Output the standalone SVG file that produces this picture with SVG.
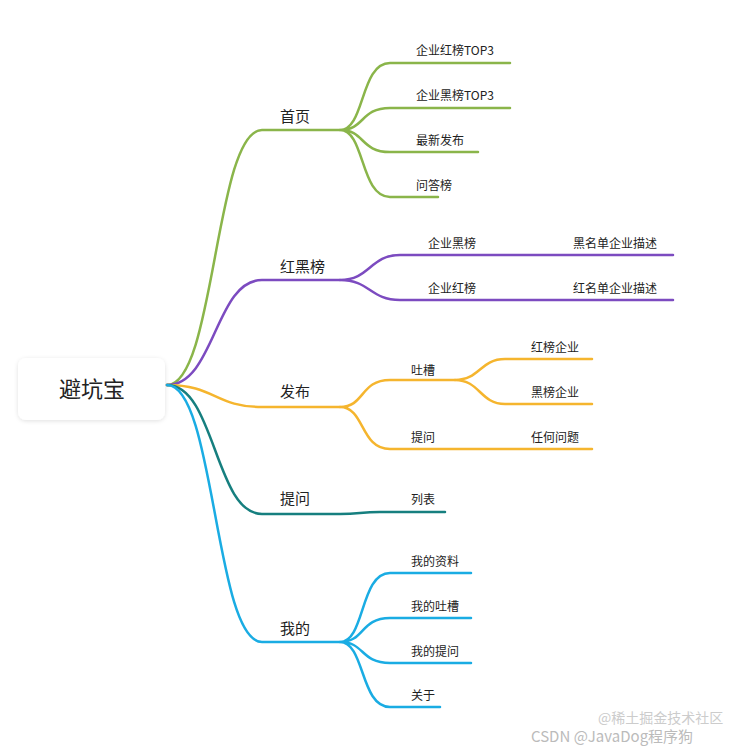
<svg xmlns="http://www.w3.org/2000/svg" width="750" height="754" viewBox="0 0 750 754">
<defs><filter id="sh" x="-20%" y="-20%" width="140%" height="150%"><feDropShadow dx="0" dy="1" stdDeviation="2" flood-color="#000" flood-opacity="0.12"/></filter></defs>
<style>
text{font-family:"Noto Sans CJK SC","Noto Sans",sans-serif;fill:#222}
.l1{font-size:15px}.l2{font-size:12px}
path{fill:none;stroke-width:2.5;stroke-linecap:round}
.g{stroke:#8ab54a}.p{stroke:#7c4bc0}.o{stroke:#f5b52e}.t{stroke:#167f7f}.b{stroke:#1aace3}
</style>
<rect width="750" height="754" fill="#fff"/>
<g id="connectors">
<path class="g" d="M167,385 C215,385 215,130 262,130 H340"/>
<path class="g" d="M340,130 C365,130 360,63 390,63 H510 M340,130 C365,130 360,108 390,108 H510 M340,130 C365,130 360,152 390,152 H478 M340,130 C365,130 360,197 390,197 H438"/>
<path class="p" d="M167,385 C215,385 215,280 262,280 H340"/>
<path class="p" d="M340,280 C370,280 370,255 400,255 H673 M340,280 C370,280 370,300 400,300 H673"/>
<path class="o" d="M167,385 C215,385 215,407 262,407 H340"/>
<path class="o" d="M340,407 C365,407 360,380 390,380 H455 M340,407 C365,407 360,449 390,449 H592"/>
<path class="o" d="M455,380 C480,380 480,359 505,359 H592 M455,380 C480,380 480,404 505,404 H592"/>
<path class="t" d="M167,385 C215,385 215,514 262,514 H340 C360,514 360,512 380,512 H445"/>
<path class="b" d="M167,385 C215,385 215,642 262,642 H340"/>
<path class="b" d="M340,642 C365,642 360,573 390,573 H471 M340,642 C365,642 360,618 390,618 H471 M340,642 C365,642 360,663 390,663 H471 M340,642 C365,642 360,707 390,707 H440"/>
</g>
<g id="root"><rect x="18" y="358" width="147" height="62" rx="8" fill="#fff" filter="url(#sh)"/><text x="92" y="397" font-size="22" text-anchor="middle">避坑宝</text></g>
<g id="n1"><text class="l1" x="280" y="122">首页</text></g>
<g id="n1a"><text class="l2" x="416" y="55">企业红榜TOP3</text></g>
<g id="n1b"><text class="l2" x="416" y="100">企业黑榜TOP3</text></g>
<g id="n1c"><text class="l2" x="416" y="145">最新发布</text></g>
<g id="n1d"><text class="l2" x="416" y="190">问答榜</text></g>
<g id="n2"><text class="l1" x="280" y="272">红黑榜</text></g>
<g id="n2a"><text class="l2" x="428" y="248">企业黑榜</text></g>
<g id="n2a1"><text class="l2" x="573" y="248">黑名单企业描述</text></g>
<g id="n2b"><text class="l2" x="428" y="293">企业红榜</text></g>
<g id="n2b1"><text class="l2" x="573" y="293">红名单企业描述</text></g>
<g id="n3"><text class="l1" x="280" y="397">发布</text></g>
<g id="n3a"><text class="l2" x="411" y="375">吐槽</text></g>
<g id="n3a1"><text class="l2" x="531" y="352">红榜企业</text></g>
<g id="n3a2"><text class="l2" x="531" y="397">黑榜企业</text></g>
<g id="n3b"><text class="l2" x="411" y="442">提问</text></g>
<g id="n3b1"><text class="l2" x="531" y="442">任何问题</text></g>
<g id="n4"><text class="l1" x="280" y="504">提问</text></g>
<g id="n4a"><text class="l2" x="411" y="504">列表</text></g>
<g id="n5"><text class="l1" x="280" y="634">我的</text></g>
<g id="n5a"><text class="l2" x="411" y="566">我的资料</text></g>
<g id="n5b"><text class="l2" x="411" y="611">我的吐槽</text></g>
<g id="n5c"><text class="l2" x="411" y="656">我的提问</text></g>
<g id="n5d"><text class="l2" x="411" y="700">关于</text></g>
<g id="wm"><text x="598" y="723" font-size="14" style="fill:#ccc">@稀土掘金技术社区</text><text x="531" y="742" font-size="15" style="fill:#bbb">CSDN @JavaDog程序狗</text></g>
</svg>
